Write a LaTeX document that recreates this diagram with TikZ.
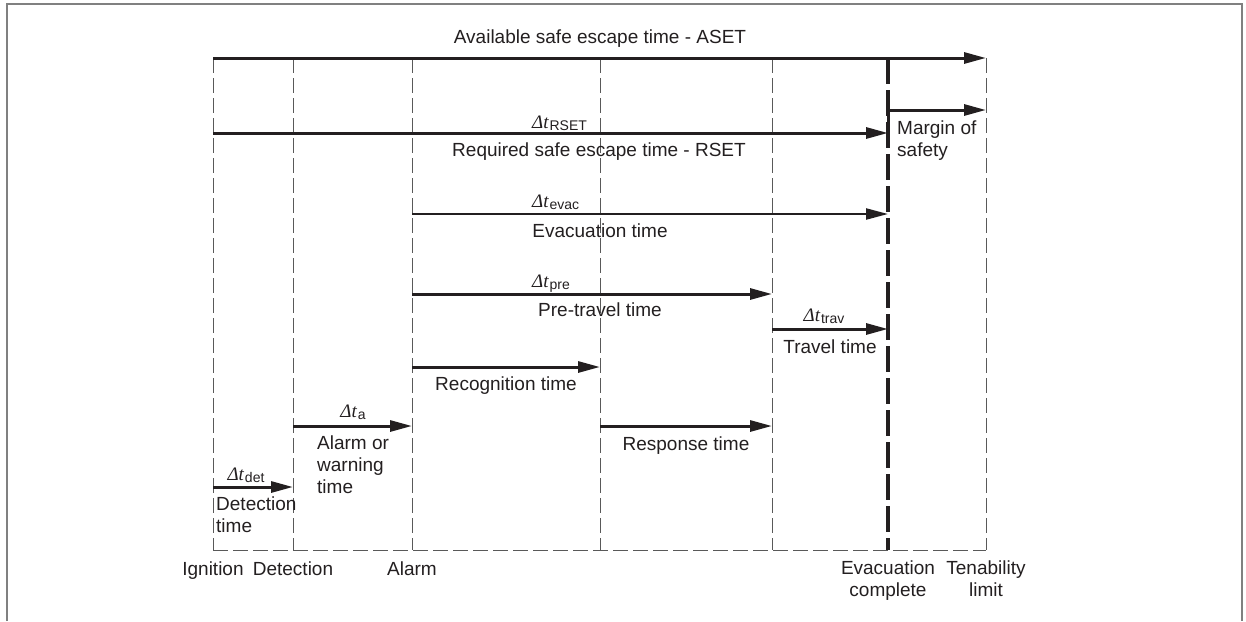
\documentclass[tikz,border=0pt]{standalone}
\usepackage{fontspec}
\setmainfont{Liberation Sans}
\newfontfamily\dtfont{Liberation Serif}
\usetikzlibrary{arrows.meta}
\definecolor{ink}{HTML}{231F20}
\newcommand\dT[1]{{\dtfont\itshape Δt}\kern1pt\raisebox{-2pt}{\fontsize{14}{14}\selectfont #1}}
\begin{document}
\begin{tikzpicture}[x=1pt,y=-1pt,
  lab/.style={font=\fontsize{19}{22}\selectfont, inner sep=0pt, text=ink},
  arr/.style={line width=3pt, draw=ink, -{Triangle[length=22pt,width=11pt]}},
  thinarr/.style={arr, line width=2.2pt},
  vdash/.style={draw=black!65, line width=1pt, dash pattern=on 15pt off 5pt},
  evdash/.style={draw=ink, line width=4pt, dash pattern=on 26pt off 6pt},
  frame/.style={draw=black!50, line width=1.5pt}]
\useasboundingbox (0,0) rectangle (1246,621);
\draw[frame] (7,621) -- (7,4) -- (1242,4) -- (1242,621);
% timeline coordinates
\coordinate (igT) at (213,58);  \coordinate (igB) at (213,550);
\coordinate (deT) at (293,58);  \coordinate (deB) at (293,550);
\coordinate (alT) at (412,58);  \coordinate (alB) at (412,550);
\coordinate (reT) at (600,58);  \coordinate (reB) at (600,550);
\coordinate (prT) at (772,58);  \coordinate (prB) at (772,550);
\coordinate (evT) at (888,58);  \coordinate (evB) at (888,550);
\coordinate (tlT) at (986,58);  \coordinate (tlB) at (986,550);
% dashed lines
\draw[vdash] (igT) -- (igB);
\draw[vdash] (deT) -- (deB);
\draw[vdash] (alT) -- (alB);
\draw[vdash] (reT) -- (reB);
\draw[vdash] (prT) -- (prB);
\draw[vdash] (tlT) -- (tlB);
\draw[vdash] (igB) -- (tlB);
% arrow end points
\coordinate (rs0) at (213,133); \coordinate (rs1) at (888,133);
\coordinate (ms0) at (888,135); \coordinate (ms1) at (888,110); \coordinate (ms2) at (986,110);
\coordinate (ev0) at (412,214); \coordinate (ev1) at (888,214);
\coordinate (pt0) at (412,294); \coordinate (pt1) at (772,294);
\coordinate (tr0) at (772,329); \coordinate (tr1) at (888,329);
\coordinate (rc0) at (412,367); \coordinate (rc1) at (600,367);
\coordinate (aw0) at (293,426); \coordinate (aw1) at (412,426);
\coordinate (rp0) at (600,426); \coordinate (rp1) at (772,426);
\coordinate (dd0) at (213,487); \coordinate (dd1) at (293,487);
% arrows
\draw[arr] (igT) -- (tlT);
\draw[arr] (rs0) -- (rs1);
\draw[arr] (ms0) -- (ms1) -- (ms2);
\draw[thinarr] (ev0) -- (ev1);
\draw[arr] (pt0) -- (pt1);
\draw[arr] (tr0) -- (tr1);
\draw[arr] (rc0) -- (rc1);
\draw[arr] (aw0) -- (aw1);
\draw[arr] (rp0) -- (rp1);
\draw[arr] (dd0) -- (dd1);
\draw[evdash] (evT) -- (evB);
% labels
\node[lab, anchor=base] (aset) at (600,43) {Available safe escape time - ASET};
\node[lab, anchor=base west] (drset) at (532,128) {\dT{RSET}};
\node[lab, anchor=base] (rset) at (599,156) {Required safe escape time - RSET};
\node[lab, anchor=base west] (devac) at (532,207) {\dT{evac}};
\node[lab, anchor=base] (evl) at (600,237) {Evacuation time};
\node[lab, anchor=base west] (dpre) at (532,287) {\dT{pre}};
\node[lab, anchor=base] (prl) at (600,316) {Pre-travel time};
\node[lab, anchor=base] (dtrav) at (824,321) {\dT{trav}};
\node[lab, anchor=base] (trl) at (830,353) {Travel time};
\node[lab, anchor=base] (rcl) at (506,390) {Recognition time};
\node[lab, anchor=base] (da) at (353,417) {\dT{a}};
\node[lab, anchor=north west, align=left] (awl) at (317,436) {Alarm or\\warning\\time};
\node[lab, anchor=base] (ddet) at (246,480) {\dT{det}};
\node[lab, anchor=north west, align=left] (dtl) at (216,497) {Detection\\time};
\node[lab, anchor=base] (rpl) at (686,450) {Response time};
\node[lab, anchor=north west, align=left] (msl) at (897,121) {Margin of\\safety};
\node[lab, anchor=base] (ign) at (213,575) {Ignition};
\node[lab, anchor=base] (det) at (293,575) {Detection};
\node[lab, anchor=base] (alm) at (412,575) {Alarm};
\node[lab, anchor=north, align=center] (evc) at (888,561) {Evacuation\\complete};
\node[lab, anchor=north, align=center] (ten) at (986,561) {Tenability\\limit};
\end{tikzpicture}
\end{document}
